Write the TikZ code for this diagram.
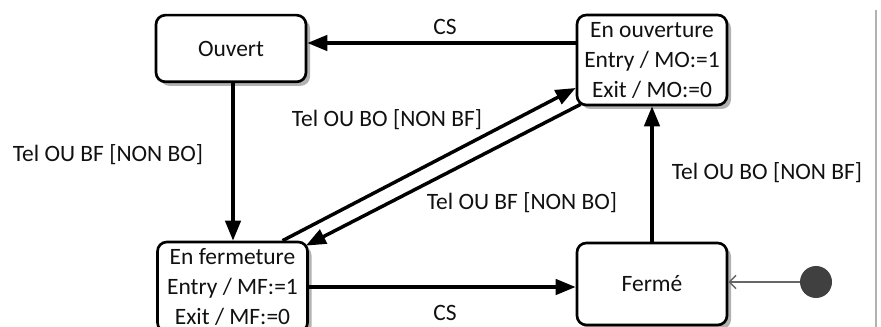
\documentclass[tikz,border=0pt]{standalone}
\usepackage{fontspec}
\setmainfont{Carlito}
\usetikzlibrary{arrows.meta,shadows,calc}
\definecolor{txt}{HTML}{111111}
\begin{document}
\begin{tikzpicture}[x=0.75pt,y=-0.75pt,
  txtfont/.style={font=\fontsize{17.6}{22.5}\selectfont},
  state/.style={draw=black, line width=2pt, rounded corners=7pt, fill=white,
    minimum width=112.5pt, inner sep=0pt, align=center, text=txt, txtfont,
    drop shadow={shadow xshift=3pt, shadow yshift=-3pt, fill=black!30, opacity=1}},
  edge/.style={line width=2.6pt, -{Triangle[length=15pt,width=11.5pt]}},
  lbl/.style={text=txt, txtfont, inner sep=0pt}]
\useasboundingbox (0,0) rectangle (881,327);
\fill[white] (0,0) rectangle (881,327);

\node[state, minimum height=50pt] (ouv) at (231,48.5) {Ouvert};
\node[state, minimum height=67.5pt] (eo) at (652,60) {En ouverture\\Entry / MO:=1\\Exit / MO:=0};
\node[state, minimum height=67.5pt] (ef) at (232.5,287) {En fermeture\\Entry / MF:=1\\Exit / MF:=0};
\node[state, minimum height=61.5pt] (fe) at (652,284) {Fermé};
\node[circle, fill=black!75, minimum size=24pt, inner sep=0pt] (init) at (816,282) {};

% edges
\draw[edge] ($(eo.west)+(0,-17)$) coordinate (a) -- (ouv.east |- a);
\draw[edge] (ouv.south -| 233,0) -- (ef.north -| 233,0);
\draw[edge] (ef.east) -- (fe.west |- ef.east);
\draw[edge] (fe.north) -- (fe.north |- eo.south);
\draw[edge] ($(ef.north)+(50,0)$) -- ($(eo.west)+(0,28)$);
\draw[edge] ($(eo.south west)+(5,-2)$) -- ($(ef.north east)+(-3,5)$);
\draw[black!60, line width=1.1pt, -{Straight Barb[length=5pt,width=10pt]}] (init) -- (fe.east |- init);

% labels
\node[lbl] (l1) at (445,27) {CS};
\node[lbl] (l2) at (445,313) {CS};
\node[lbl] (l3) at (108,155) {Tel OU BF [NON BO]};
\node[lbl] (l4) at (767,173) {Tel OU BO [NON BF]};
\node[lbl] (l5) at (387,120) {Tel OU BO [NON BF]};
\node[lbl] (l6) at (522,203) {Tel OU BF [NON BO]};

\draw[black!30, line width=0.8pt] (876,10) -- (876,327);
\end{tikzpicture}
\end{document}
